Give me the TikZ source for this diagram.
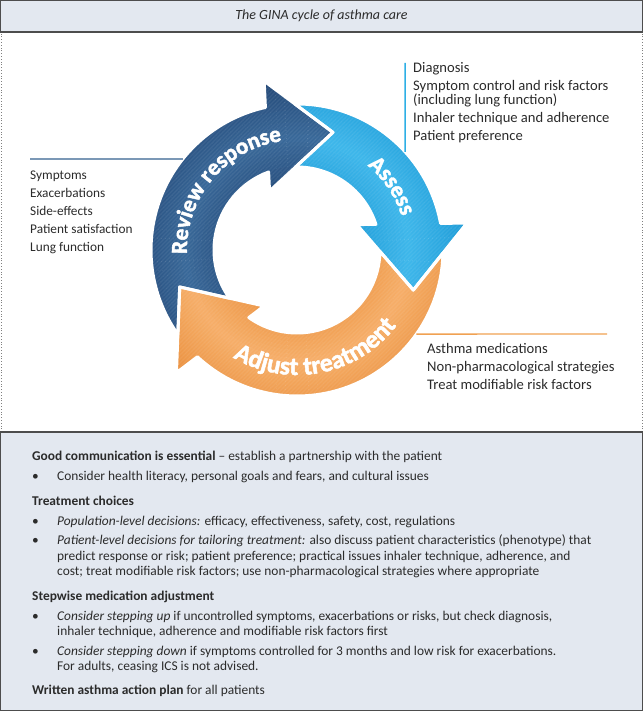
\documentclass[tikz,border=0pt]{standalone}
\usepackage{fontspec}
\setmainfont{Carlito}
\newfontfamily\arcfont{Carlito}[BoldFeatures={FakeBold=2}]
\usetikzlibrary{decorations.text}
\definecolor{boxfill}{HTML}{E3E8F0}
\definecolor{boxline}{HTML}{4D4D4D}
\definecolor{txt}{HTML}{2B2B2B}
\definecolor{dblue}{HTML}{34618F}
\definecolor{dbluelt}{HTML}{386899}
\definecolor{dbluedk}{HTML}{214574}
\definecolor{lblue}{HTML}{2EAFE5}
\definecolor{lbluelt}{HTML}{3DB7EB}
\definecolor{lbluedk}{HTML}{1C9AD6}
\definecolor{orng}{HTML}{F0A152}
\definecolor{ornglt}{HTML}{F6AE68}
\definecolor{orngdk}{HTML}{EA8F3C}
\newcommand{\cycpath}[2]{({#1-10.2}:146) arc[start angle={#1-10.2}, end angle={#2+1.5}, radius=146] -- (#2:172) -- ({#2-28}:123) -- ({#2+14}:65) -- ({#2+9}:83) arc[start angle={#2+9}, end angle={#1-10}, radius=83] -- ({#1-28}:123) -- cycle}
\newcommand{\cycfill}[4]{%
  \begin{scope}
    \clip \cycpath{#1}{#2};
    \foreach \rr in {58,62,...,178}{%
      \pgfmathsetmacro{\mm}{max(0,100-1.6*abs(\rr-112))}%
      \draw[line width=4.4pt, #3!\mm!#4] (0,0) circle[radius=\rr];}
    \foreach \kk in {-360,-356,...,360}{%
      \draw[stripe] (\kk-180,-180) -- (\kk+180,180);}
  \end{scope}}
\begin{document}
\begin{tikzpicture}[x=1pt,y=1pt,
  every node/.style={text=txt, inner sep=0pt},
  band/.style={draw=boxline, fill=boxfill, line width=1.2pt},
  sideline/.style={gray, dotted, line width=0.8pt},
  listtext/.style={anchor=north west, align=left, font=\fontsize{13.3}{18}\selectfont},
  stripe/.style={white, draw opacity=0.07, line width=1.2pt},
  gap/.style={draw=white, line width=3pt, line join=round},
  arctext/.style={decorate, decoration={text along path, text align=center, text={#1}}}
]
\useasboundingbox (0,0) rectangle (643,711);
% title band
\draw[band] (0.6,679) rectangle (642.4,710.4);
\node[font=\itshape\fontsize{14}{16}\selectfont] (title) at (321.5,695) {The GINA cycle of asthma care};
% side dotted lines
\draw[sideline] (1,279) -- (1,679);
\draw[sideline] (642,279) -- (642,679);
% bottom box
\draw[band] (0.6,0.6) rectangle (642.4,279);

\begin{scope}[shift={(297,461)}]
  \coordinate (lpt) at (141.4:146);
  \coordinate (bpt) at (42.2:146);
  \coordinate (opt) at (-35.2:146);
  % arrows
  \cycfill{225.5}{101}{dbluelt}{dbluedk}
  \cycfill{101}{9}{lbluelt}{lbluedk}
  \cycfill{9}{-134.5}{ornglt}{orngdk}
  \path[gap] \cycpath{225.5}{101};
  \path[gap] \cycpath{101}{9};
  \path[gap] \cycpath{9}{-134.5};
  % labels
  \path[arctext={|\color{white}\arcfont\bfseries\fontsize{23}{23}\selectfont|Review response}] (200:110) arc[start angle=200, end angle=80, radius=110];
  \path[arctext={|\color{white}\arcfont\bfseries\fontsize{23}{23}\selectfont|Assess}] (72:110) arc[start angle=72, end angle=-4, radius=110];
  \path[arctext={|\color{white}\arcfont\bfseries\fontsize{25.5}{25.5}\selectfont|Adjust treatment}] (221:125) arc[start angle=221, end angle=341, radius=125];
\end{scope}

% left list
\coordinate (la) at (30,552);
\draw[dblue, line width=1.3pt] (la) -- (lpt);
\node[listtext] (leftlist) at (30,540) {Symptoms\\Exacerbations\\Side-effects\\Patient satisfaction\\Lung function};

% right top list
\coordinate (ra) at (405,648);
\draw[lblue, line width=1.5pt] (ra) -- (bpt);
\node[listtext, font=\fontsize{14.6}{14}\selectfont] (rtlist) at (413,649) {Diagnosis\\[4pt]Symptom control and risk factors\\(including lung function)\\[4pt]Inhaler technique and adherence\\[4pt]Patient preference};

% right bottom list
\coordinate (oa) at (607,377);
\draw[orng, line width=1.3pt] (opt) -- (oa);
\node[listtext, font=\fontsize{14.6}{18}\selectfont] (rblist) at (427,368) {Asthma medications\\Non-pharmacological strategies\\Treat modifiable risk factors};

% bottom text
\node[anchor=north west, align=left, font=\fontsize{13.4}{15}\selectfont] (bottomtext) at (32,260) {%
{\bfseries Good communication is essential} -- establish a partnership with the patient\\[5pt]
\makebox[25pt][l]{\textbullet}Consider health literacy, personal goals and fears, and cultural issues\\[10pt]
{\bfseries Treatment choices}\\[5pt]
\makebox[25pt][l]{\textbullet}\textit{Population-level decisions:} efficacy, effectiveness, safety, cost, regulations\\[4pt]
\makebox[25pt][l]{\textbullet}\textit{Patient-level decisions for tailoring treatment:} also discuss patient characteristics (phenotype) that\\[1pt]
\hspace*{25pt}predict response or risk; patient preference; practical issues inhaler technique, adherence, and\\
\hspace*{25pt}cost; treat modifiable risk factors; use non-pharmacological strategies where appropriate\\[10pt]
{\bfseries Stepwise medication adjustment}\\[5pt]
\makebox[25pt][l]{\textbullet}\textit{Consider stepping up} if uncontrolled symptoms, exacerbations or risks, but check diagnosis,\\
\hspace*{25pt}inhaler technique, adherence and modifiable risk factors first\\[5pt]
\makebox[25pt][l]{\textbullet}\textit{Consider stepping down} if symptoms controlled for 3 months and low risk for exacerbations.\\
\hspace*{25pt}For adults, ceasing ICS is not advised.\\[9pt]
{\bfseries Written asthma action plan} for all patients};
\end{tikzpicture}
\end{document}
